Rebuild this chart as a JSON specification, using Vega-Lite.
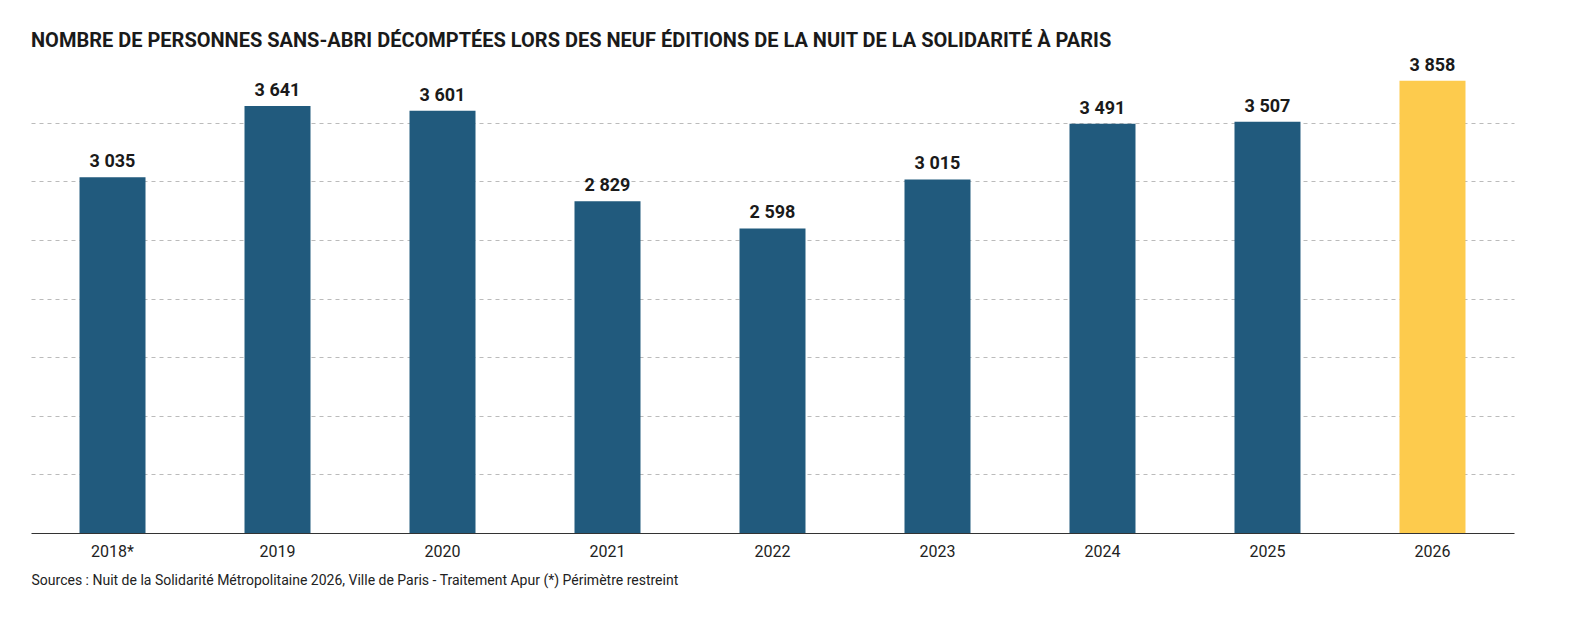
{
"$schema":"https://vega.github.io/schema/vega-lite/v6.json",
"width":1483,"height":469,
"autosize":{"type":"none"},
"padding":{"left":31,"top":64,"right":59,"bottom":101},
"config":{"locale":{"number":{"decimal":",","thousands":" ","grouping":[3],"currency":["","€"]}},"view":{"stroke":null},"font":"Roboto"},
"title":{"text":"NOMBRE DE PERSONNES SANS-ABRI DÉCOMPTÉES LORS DES NEUF ÉDITIONS DE LA NUIT DE LA SOLIDARITÉ À PARIS","anchor":"start","frame":"group","fontSize":20,"fontWeight":"bold","color":"#1a1a1a","offset":6,"font":"Roboto"},
"data":{"values":[
{"annee":"2018*","n":3035,"cur":"non"},
{"annee":"2019","n":3641,"cur":"non"},
{"annee":"2020","n":3601,"cur":"non"},
{"annee":"2021","n":2829,"cur":"non"},
{"annee":"2022","n":2598,"cur":"non"},
{"annee":"2023","n":3015,"cur":"non"},
{"annee":"2024","n":3491,"cur":"non"},
{"annee":"2025","n":3507,"cur":"non"},
{"annee":"2026","n":3858,"cur":"oui"}]},
"encoding":{
"x":{"field":"annee","type":"nominal","sort":null,"scale":{"paddingInner":0.6,"paddingOuter":0.294},
"axis":{"labelAngle":0,"labelFontSize":16,"labelColor":"#222","labelPadding":10,"ticks":false,"domainColor":"#333","title":"Sources : Nuit de la Solidarité Métropolitaine 2026, Ville de Paris - Traitement Apur  (*) Périmètre restreint","titleAnchor":"start","titleAlign":"left","titleFontSize":14,"titleFontWeight":"normal","titleColor":"#222","titlePadding":14,"titleX":0}},
"y":{"field":"n","type":"quantitative","scale":{"domain":[0,4000]},
"axis":{"title":null,"labels":false,"ticks":false,"domain":false,"values":[500,1000,1500,2000,2500,3000,3500],"gridDash":[4,4],"gridColor":"#bbb"}}
},
"layer":[
{"mark":{"type":"bar"},"encoding":{"color":{"field":"cur","type":"nominal","scale":{"domain":["non","oui"],"range":["#215a7d","#fdcb4d"]},"legend":null}}},
{"mark":{"type":"text","dy":-15,"fontSize":18,"fontWeight":"bold","color":"#1a1a1a"},"encoding":{"text":{"field":"n","type":"quantitative","format":",d"}}}
]
}
